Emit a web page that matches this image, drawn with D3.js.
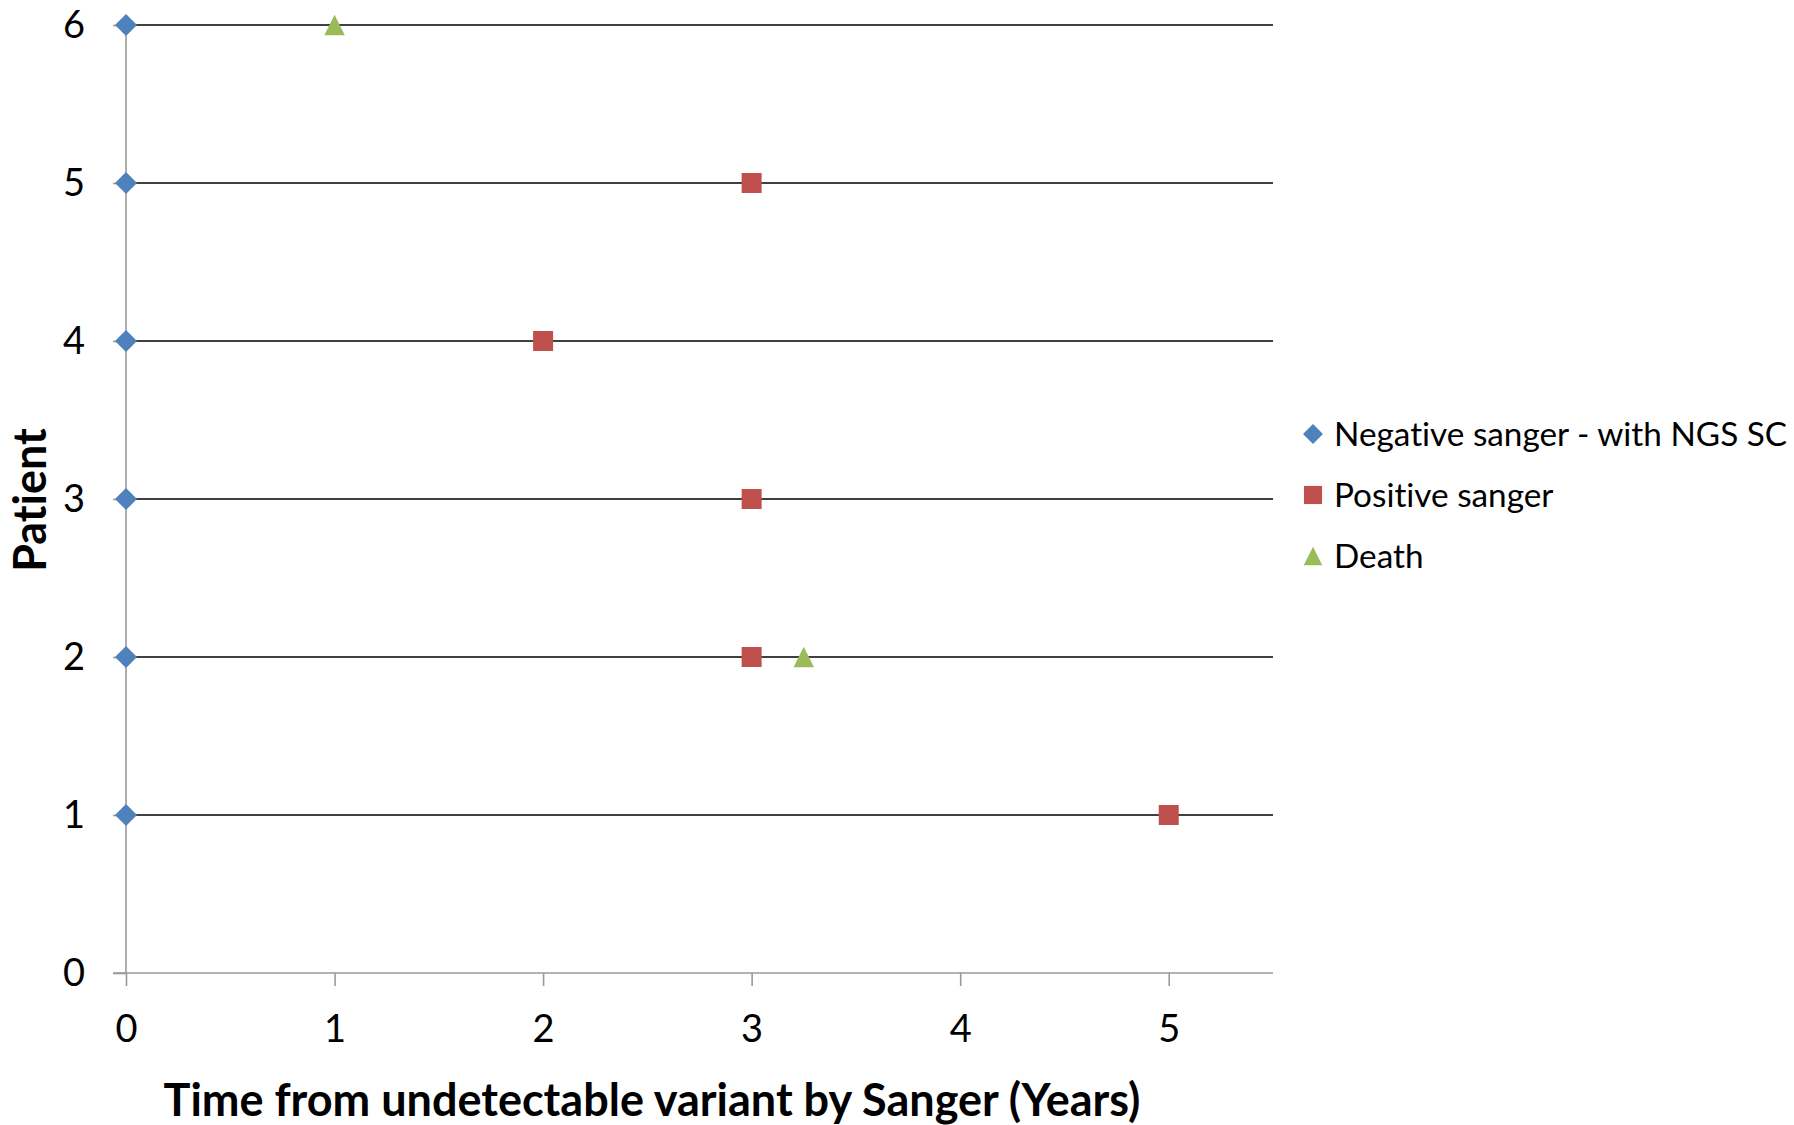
<!DOCTYPE html>
<html>
<head>
<meta charset="utf-8">
<script src="https://cdn.jsdelivr.net/npm/d3@7"></script>
<style>
  html, body { margin: 0; padding: 0; background: #fff; }
  svg { display: block; }
  text { font-family: Lato, "Open Sans", sans-serif; fill: #000; font-variant-ligatures: none; font-feature-settings: "liga" 0, "clig" 0; }
</style>
</head>
<body>
<svg id="chart" width="1794" height="1125"></svg>
<script>
// Follow-up timeline per patient (years since undetectable variant by Sanger)
const negativeX = [0, 0, 0, 0, 0, 0];
const negativeY = [1, 2, 3, 4, 5, 6];
const positiveX = [5, 3, 3, 2, 3];
const positiveY = [1, 2, 3, 4, 5];
const deathX = [3.25, 1];
const deathY = [2, 6];
const xTicks = [0, 1, 2, 3, 4, 5];
const yTicks = [0, 1, 2, 3, 4, 5, 6];
const seriesNames = ["Negative sanger - with NGS SC", "Positive sanger", "Death"];
const seriesColors = ["#4F81BD", "#C0504D", "#9BBB59"];
const xTitle = "Time from undetectable variant by Sanger (Years)";
const yTitle = "Patient";

const svg = d3.select("#chart");
const plotLeft = 126, plotRight = 1273, plotTop = 25, plotBottom = 973;

const x = d3.scaleLinear().domain([0, 5.5]).range([plotLeft, plotRight]);
const y = d3.scaleLinear().domain([0, 6]).range([plotBottom, plotTop]);

// horizontal gridlines (black) for each patient row
svg.append("g").selectAll("line")
  .data(yTicks.filter(d => d > 0))
  .join("line")
  .attr("x1", plotLeft).attr("x2", plotRight)
  .attr("y1", d => y(d)).attr("y2", d => y(d))
  .attr("stroke", "#000").attr("stroke-width", 1.6);

// axes
const axisColor = "#9a9a9a";
const gx = svg.append("g").attr("transform", `translate(0,${plotBottom})`)
  .call(d3.axisBottom(x).tickValues(xTicks).tickSize(13).tickPadding(29).tickFormat(d3.format("d")));
const gy = svg.append("g").attr("transform", `translate(${plotLeft},0)`)
  .call(d3.axisLeft(y).tickValues(yTicks).tickSize(13).tickPadding(28).tickFormat(d3.format("d")));
[gx, gy].forEach(g => {
  g.select(".domain").attr("stroke", axisColor).attr("stroke-width", 1.6);
  g.selectAll(".tick line").attr("stroke", axisColor).attr("stroke-width", 1.6);
  g.selectAll(".tick text").attr("font-size", 38).attr("font-family", "Lato, sans-serif").attr("fill", "#000");
});
// axis lines span the plot without d3's outer ticks
gx.select(".domain").attr("d", `M${plotLeft - 13},0H${plotRight}`);
gy.select(".domain").attr("d", `M0,${plotTop}V${plotBottom}`);

// marker shapes: rotated square (diamond), square, box-centred triangle
const diamond = { draw(ctx, size) { const r = Math.sqrt(size) / 2; ctx.moveTo(0, -r); ctx.lineTo(r, 0); ctx.lineTo(0, r); ctx.lineTo(-r, 0); ctx.closePath(); } };
const triangle = { draw(ctx, size) { const w = Math.sqrt(size) / 2; ctx.moveTo(0, -w); ctx.lineTo(w, w); ctx.lineTo(-w, w); ctx.closePath(); } };
const sym = [diamond, d3.symbolSquare, triangle];
const symSize = [484, 400, 420];
function drawSeries(xs, ys, i) {
  svg.append("g").selectAll("path")
    .data(xs.map((v, k) => [v, ys[k]]))
    .join("path")
    .attr("transform", d => `translate(${x(d[0])},${y(d[1])})`)
    .attr("d", d3.symbol(sym[i], symSize[i]))
    .attr("fill", seriesColors[i]);
}
drawSeries(negativeX, negativeY, 0);
drawSeries(positiveX, positiveY, 1);
drawSeries(deathX, deathY, 2);

// axis titles
svg.append("text")
  .attr("x", 652).attr("y", 1116)
  .attr("text-anchor", "middle")
  .attr("font-size", 45).attr("font-weight", "bold")
  .text(xTitle);
svg.append("text")
  .attr("transform", `translate(46,500) rotate(-90)`)
  .attr("text-anchor", "middle")
  .attr("font-size", 45).attr("font-weight", "bold")
  .text(yTitle);

// legend
const legend = svg.append("g");
const legendY = [434, 495, 556];
seriesNames.forEach((name, i) => {
  legend.append("path")
    .attr("transform", `translate(1313,${legendY[i]})`)
    .attr("d", d3.symbol(sym[i], symSize[i] * 0.82))
    .attr("fill", seriesColors[i]);
  legend.append("text")
    .attr("x", 1334).attr("y", legendY[i])
    .attr("dy", "0.35em")
    .attr("font-size", 33.3)
    .text(name);
});
</script>
</body>
</html>
